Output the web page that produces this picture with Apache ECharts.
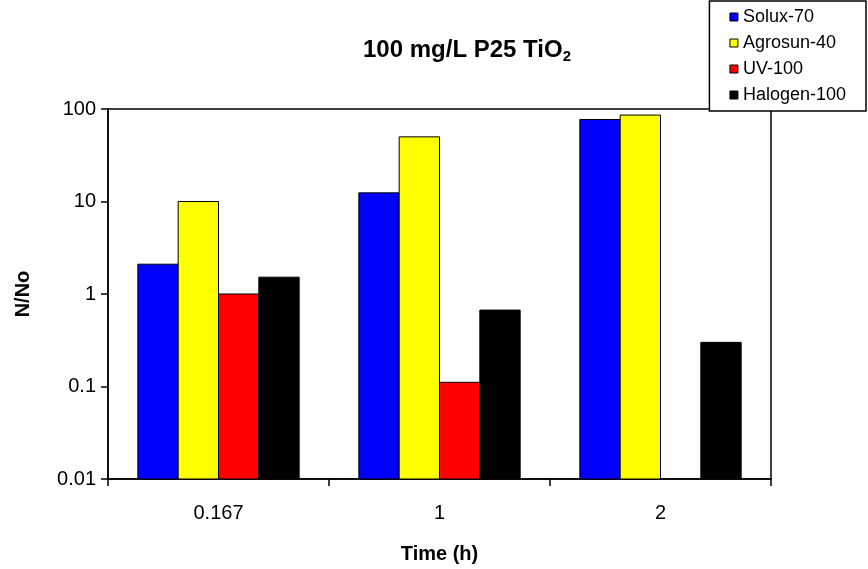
<!DOCTYPE html>
<html>
<head>
<meta charset="utf-8">
<script src="https://cdn.jsdelivr.net/npm/echarts@6/dist/echarts.min.js"></script>
<style>
  html, body { margin: 0; padding: 0; background: #fff; }
  #main { width: 868px; height: 569px; }
</style>
</head>
<body>
<div id="main"></div>
<script>
// chart data
var categories = ['0.167', '1', '2'];
var seriesNames = ['Solux-70', 'Agrosun-40', 'UV-100', 'Halogen-100'];
var solux = [2.1, 12.4, 77];
var agrosun = [10, 50, 86];
var uv = [1.0, 0.111, null];
var halogen = [1.52, 0.67, 0.30];
var yTicks = [0.01, 0.1, 1, 10, 100];

var colors = ['#0000FF', '#FFFF00', '#FF0000', '#000000'];
var values = [solux, agrosun, uv, halogen];
var yMin = yTicks[0];
var groupFrac = 0.73;   // share of a category taken by the 4 bars

var myChart = echarts.init(document.getElementById('main'));

// bars drawn from the log axis bottom (plain bars on a log axis start at 1)
function makeRender(idx) {
    return function (params, api) {
        var cat = api.value(0);
        var val = api.value(1);
        var top = api.coord([cat, val]);
        var base = api.coord([cat, yMin]);
        var band = api.size([1, 1])[0];
        var barW = band * groupFrac / seriesNames.length;
        var x = top[0] - band * groupFrac / 2 + idx * barW;
        return {
            type: 'rect',
            shape: { x: x, y: top[1], width: barW, height: base[1] - top[1] },
            style: { fill: colors[idx], stroke: '#000', lineWidth: 1 }
        };
    };
}

var option = {
    animation: false,
    textStyle: { fontFamily: 'Liberation Sans, Arial, sans-serif' },
    title: {
        text: '{t|100 mg/L P25 TiO}{s|2}',
        left: 462,
        top: 32,
        textAlign: 'center',
        textStyle: {
            rich: {
                t: { fontSize: 24, fontWeight: 'bold', color: '#000', fontFamily: 'Liberation Sans' },
                s: { fontSize: 15, fontWeight: 'bold', color: '#000', fontFamily: 'Liberation Sans', padding: [12, 0, 0, 0] }
            }
        }
    },
    legend: {
        orient: 'vertical',
        right: 2,
        top: 1,
        padding: [7, 20, 7, 20],
        borderColor: '#000',
        borderWidth: 1.5,
        backgroundColor: '#fff',
        icon: 'rect',
        itemWidth: 8,
        itemHeight: 8,
        itemGap: 8,
        itemStyle: { borderColor: '#000', borderWidth: 1 },
        textStyle: { fontSize: 18, color: '#000', fontFamily: 'Liberation Sans' },
        data: seriesNames
    },
    grid: {
        left: 108,
        right: 97,
        top: 109,
        bottom: 88,
        show: true,
        borderColor: '#000',
        borderWidth: 1.5,
        containLabel: false
    },
    xAxis: {
        type: 'category',
        data: categories,
        name: 'Time (h)',
        nameLocation: 'middle',
        nameGap: 65,
        nameTextStyle: { fontSize: 20, fontWeight: 'bold', color: '#000', fontFamily: 'Liberation Sans' },
        axisLine: { lineStyle: { color: '#000', width: 1.5 } },
        axisTick: { show: true, inside: false, length: 7, lineStyle: { color: '#000', width: 1.5 } },
        axisLabel: { fontSize: 20, color: '#000', margin: 24 }
    },
    yAxis: {
        type: 'log',
        logBase: 10,
        min: yTicks[0],
        max: yTicks[yTicks.length - 1],
        name: 'N/No',
        nameLocation: 'middle',
        nameGap: 75,
        nameTextStyle: { fontSize: 20, fontWeight: 'bold', color: '#000', fontFamily: 'Liberation Sans' },
        axisLine: { show: true, lineStyle: { color: '#000', width: 1.5 } },
        axisTick: { show: true, inside: false, length: 7, lineStyle: { color: '#000', width: 1.5 } },
        splitLine: { show: false },
        axisLabel: {
            fontSize: 20,
            color: '#000',
            margin: 12,
            formatter: function (v) {
                for (var i = 0; i < yTicks.length; i++) {
                    if (Math.abs(Math.log10(v) - Math.log10(yTicks[i])) < 1e-6) return String(yTicks[i]);
                }
                return '';
            }
        }
    },
    series: seriesNames.map(function (name, i) {
        var pts = [];
        values[i].forEach(function (v, c) {
            if (v != null) pts.push([c, v]);
        });
        return {
            name: name,
            type: 'custom',
            renderItem: makeRender(i),
            encode: { x: 0, y: 1 },
            data: pts,
            itemStyle: { color: colors[i], borderColor: '#000', borderWidth: 1 }
        };
    })
};

myChart.setOption(option);
</script>
</body>
</html>
